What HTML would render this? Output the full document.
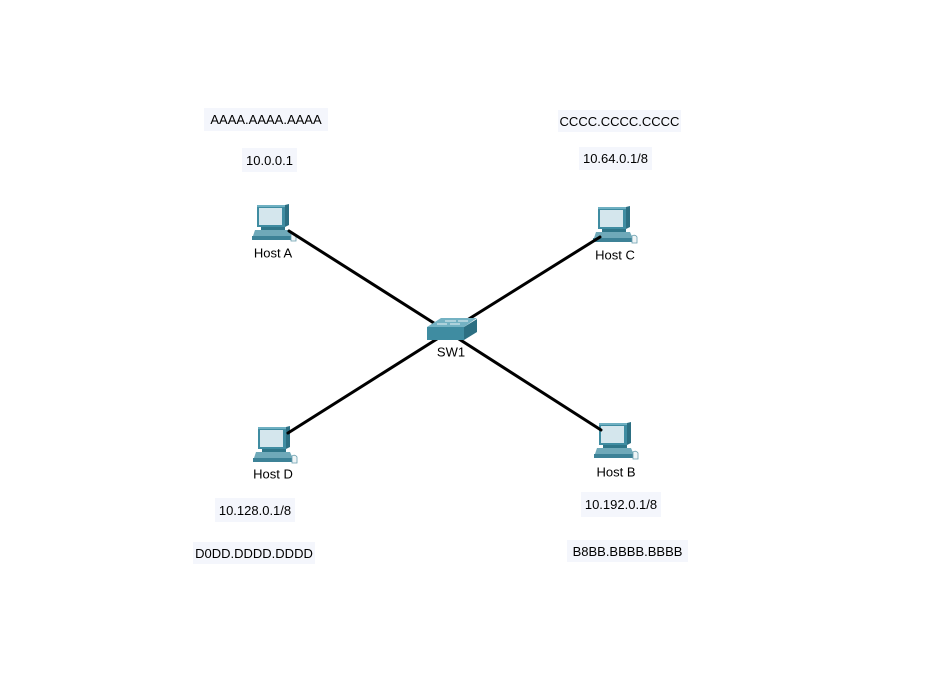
<!DOCTYPE html>
<html><head><meta charset="utf-8"><style>
html,body{margin:0;padding:0;background:#fff;}
body{width:934px;height:700px;position:relative;overflow:hidden;font-family:"Liberation Sans",Arial,sans-serif;}
.box{position:absolute;background:#f4f6fc;color:#000;font-size:13px;display:flex;align-items:center;justify-content:center;white-space:nowrap;}
.lbl{position:absolute;font-size:13px;color:#000;white-space:nowrap;transform:translate(-50%,-50%);}
svg{position:absolute;left:0;top:0;}
</style></head><body>
<svg width="934" height="700" viewBox="0 0 934 700">
<defs>
<g id="pc">
  <!-- keyboard -->
  <polygon points="-2,25 32,25 36,34 -5,34" fill="#6fa9b9"/>
  <rect x="-5" y="31" width="41" height="4" fill="#3d8297"/>
  <!-- stand -->
  <rect x="4" y="22" width="24" height="3" fill="#2f7689"/>
  <!-- monitor side -->
  <polygon points="28,0 32,-1 32,20 28,22" fill="#2c6f82"/>
  <!-- monitor -->
  <rect x="0" y="0" width="28" height="22" fill="#3f8ca1"/>
  <rect x="0" y="0" width="28" height="2" fill="#6fb0c2"/>
  <rect x="2" y="3" width="23" height="17" fill="#d4e6ed"/>
  <!-- mouse -->
  <path d="M34,29 q3,-2 5,1 l0,6 l-5,0 z" fill="#eef4f6" stroke="#6a9fae" stroke-width="0.8"/>
</g>
</defs>
<use href="#pc" x="257" y="205"/>
<use href="#pc" x="598" y="207"/>
<use href="#pc" x="258" y="427"/>
<use href="#pc" x="599" y="423"/>
<g stroke="#000" stroke-width="3" stroke-linecap="round">
  <line x1="289" y1="231" x2="448" y2="332"/>
  <line x1="601" y1="430" x2="448" y2="332"/>
  <line x1="288" y1="433" x2="448" y2="332"/>
  <line x1="600" y1="237" x2="448" y2="332"/>
</g>
<!-- switch -->
<g>
  <polygon points="427,327 464,327 464,340 427,340" fill="#3f8ca1"/>
  <polygon points="464,327 477,319 477,332 464,340" fill="#2c6f82"/>
  <polygon points="427,327 441,318 477,318 464,327" fill="#74b2c3"/>
  <g stroke="#e8f3f6" stroke-width="1">
    <line x1="445" y1="321" x2="456" y2="321"/>
    <line x1="458" y1="321" x2="468" y2="321"/>
    <line x1="437" y1="324" x2="447" y2="324"/>
    <line x1="450" y1="324" x2="460" y2="324"/>
  </g>
</g>
</svg>

<div class="box" style="left:204px;top:108px;width:124px;height:23px;">AAAA.AAAA.AAAA</div>
<div class="box" style="left:242px;top:148px;width:55px;height:24px;">10.0.0.1</div>
<div class="box" style="left:558px;top:110px;width:123px;height:22px;">CCCC.CCCC.CCCC</div>
<div class="box" style="left:579px;top:147px;width:73px;height:23px;">10.64.0.1/8</div>
<div class="box" style="left:215px;top:498px;width:80px;height:24px;">10.128.0.1/8</div>
<div class="box" style="left:193px;top:542px;width:122px;height:22px;">D0DD.DDDD.DDDD</div>
<div class="box" style="left:581px;top:492px;width:80px;height:25px;">10.192.0.1/8</div>
<div class="box" style="left:567px;top:540px;width:121px;height:22px;">B8BB.BBBB.BBBB</div>

<div class="lbl" style="left:273px;top:253px;">Host A</div>
<div class="lbl" style="left:615px;top:255px;">Host C</div>
<div class="lbl" style="left:273px;top:474px;">Host D</div>
<div class="lbl" style="left:616px;top:472px;">Host B</div>
<div class="lbl" style="left:451px;top:352px;">SW1</div>
</body></html>
